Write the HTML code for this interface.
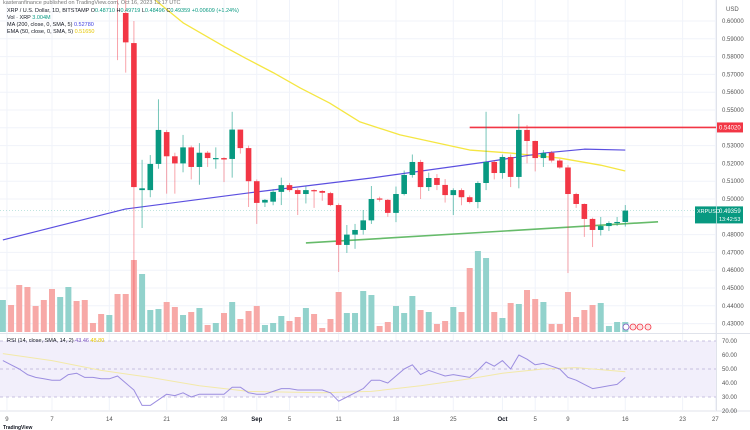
<!DOCTYPE html>
<html><head><meta charset="utf-8"><style>
html,body{margin:0;padding:0;background:#fff;width:750px;height:430px;overflow:hidden}
svg{display:block;font-family:"Liberation Sans",sans-serif}
</style></head><body>
<svg id="c" width="750" height="430" viewBox="0 0 750 430"></svg>
<script>
// ---- data ----
const startDay = -6; // days relative to Aug 7
const candleStart = 8;
const candleOpen  = [.650,.6045,.5876,.505,.505,.5197,.5376,.524,.520,.529,.518,.526,.5225,.523,.5225,.539,.5286,.510,.498,.4985,.504,.5078,.505,.5028,.505,.5045,.5033,.4966,.4742,.480,.4826,.488,.5003,.4995,.4922,.5028,.5135,.5208,.5067,.5118,.5079,.5022,.505,.501,.4983,.509,.5208,.5146,.5236,.5124,.5388,.5326,.523,.526,.5216,.5177,.5028,.4972,.4888,.4826,.4848,.4865,.4871];
const candleHigh  = [.655,.640,.600,.522,.5247,.556,.5388,.526,.536,.530,.5314,.527,.529,.5235,.549,.539,.530,.511,.500,.5055,.512,.509,.506,.507,.5055,.505,.504,.4975,.4854,.486,.4938,.5073,.5013,.500,.507,.516,.525,.522,.5148,.514,.5112,.506,.506,.502,.510,.549,.5218,.525,.525,.5478,.5416,.5328,.5275,.527,.5225,.519,.5035,.4975,.4895,.4899,.4875,.4899,.4966];
const candleLow   = [.578,.571,.432,.4837,.501,.517,.503,.503,.515,.511,.508,.518,.517,.5095,.512,.5255,.4955,.486,.4955,.4965,.4966,.504,.491,.4975,.495,.499,.496,.459,.4697,.472,.480,.486,.4985,.490,.487,.502,.512,.500,.5045,.505,.498,.491,.4965,.4975,.4948,.505,.511,.5114,.5067,.506,.520,.5155,.518,.5205,.517,.4584,.495,.4787,.473,.4795,.482,.4848,.4845];
const candleClose = [.640,.588,.5067,.506,.5197,.5388,.524,.520,.529,.518,.526,.523,.523,.5222,.539,.5286,.510,.4978,.4995,.504,.5078,.505,.5028,.505,.5045,.5035,.4966,.4742,.480,.4826,.488,.500,.4997,.4922,.5028,.5135,.5208,.5067,.5118,.5079,.5022,.505,.501,.4983,.509,.5208,.5146,.5236,.5124,.5388,.5326,.523,.5258,.5216,.5177,.5028,.4972,.4888,.4826,.4848,.4865,.4871,.4935];
const volumes = [32,27,47,45,26,32,43,35,45,31,32,9,18,17,38,38,72,58,22,23,30,25,17,20,24,7,9,19,30,13,21,26,7,9,16,11,15,24,18,4,13,40,19,19,41,37,6,10,26,19,36,22,20,8,11,25,20,64,81,74,20,14,29,28,42,33,30,8,8,40,15,22,27,29,6,10,10];
const earlyDir = ['u','d','d','d','d','d','d','u','u','d','d','d','d','u','d'];
const rsiValues = [56,53,50,46,44,43,42,42,46,47,44,44,43,43,45,40,35,24,24,28,32,31,33,30,32,32,32,32,37,37,33,32,32,34,36,36,35,35,35,35,33,27,30,33,36,42,42,40,45,50,53,46,49,47,45,46,45,44,49,55,52,56,50,60,57,53,54,52,50,44,42,39,36,37,38,39,44];
const rsiSmaDays = [-6,0,6,12,18,24,33,39,45,51,55,60,64,68,70];
const rsiSmaVals = [61,56,49,44,38,34,33,34,38,43,47,50,51,49,48];
const maDays = [-6,9,24,39,53,60,65,70];
const maVals = [.4770,.4944,.5034,.5118,.5208,.5258,.528,.5275];
const emaDays = [9,12.6,16,21.1,23.6,27,30.3,33.9,37.6,42.5,51,56,62,67,70];
const emaVals = [.628,.6118,.599,.5854,.5792,.571,.5624,.5539,.5433,.536,.5275,.5258,.523,.519,.5157];
const priceTicks = [.60,.59,.58,.57,.56,.55,.53,.52,.51,.50,.48,.47,.46,.45,.44,.43];
const rsiTicks = [70,60,50,40,30,20];
const dateLabels = ['9','7','14','21','28','Sep','5','11','18','25','Oct','5','9','16','23','27'];
const dateDays = [-5.5,0,7,14,21,25,29,35,42,49,55,59,63,70,77,81];
const supportDays = [31,74]; const supportVals = [.4753,.4872];
const resistDays = [51]; const resistVal = .5402;

// ---- axes ----
const X = d => 52 + 8.19*d;
const Y = p => 110 - (p-0.55)*1780;
const VY = v => 332 - v;
const RY = v => 369 - (v-50)*1.4;
const NS='http://www.w3.org/2000/svg';
const svg=document.getElementById('c');
function el(t,a,p){const e=document.createElementNS(NS,t);for(const k in a)e.setAttribute(k,a[k]);(p||svg).appendChild(e);return e;}
const UP='#089981', DN='#f23645';

const defs=el('defs',{});
const cp=el('clipPath',{id:'pc'},defs); el('rect',{x:0,y:0,width:716,height:332},cp);

const grid=el('g',{});
priceTicks.forEach(p=>el('line',{x1:0,x2:716,y1:Y(p),y2:Y(p),stroke:'#f0f3fa','stroke-width':1},grid));
[.54,.49].forEach(p=>el('line',{x1:0,x2:716,y1:Y(p),y2:Y(p),stroke:'#f0f3fa','stroke-width':1},grid));
dateDays.forEach(d=>{if(X(d)<716)el('line',{x1:X(d),x2:X(d),y1:0,y2:410,stroke:'#f0f3fa','stroke-width':1},grid);});

const rsiG=el('g',{});
el('rect',{x:0,y:RY(70),width:716,height:RY(30)-RY(70),fill:'#f2effb'},rsiG);
[70,50,30].forEach(v=>el('line',{x1:0,x2:716,y1:RY(v),y2:RY(v),stroke:'#b9b0d6','stroke-dasharray':'3,3','stroke-width':0.8},rsiG));
el('line',{x1:0,x2:750,y1:333.5,y2:333.5,stroke:'#e0e3eb'},svg);
el('line',{x1:716.5,x2:716.5,y1:0,y2:411,stroke:'#e0e3eb'},svg);
el('line',{x1:0,x2:750,y1:411,y2:411,stroke:'#e0e3eb'},svg);

const vg=el('g',{'clip-path':'url(#pc)'});
volumes.forEach((v,i)=>{const d=startDay+i;let dir;
 if(d<9) dir=earlyDir[i]||'d'; else {const k=d-candleStart;dir=candleClose[k]>=candleOpen[k]?'u':'d';}
 const r=el('rect',{x:X(d)-3,y:VY(v),width:6,height:v,fill:dir==='u'?'#92d2cc':'#f7a9a7'},vg);
 
 
});

function poly(days,vals,f,stroke,w,name,parent){const pts=days.map((d,i)=>X(d)+','+f(vals[i])).join(' ');
 const p=el('polyline',{points:pts,fill:'none',stroke:stroke,'stroke-width':w,'stroke-linejoin':'round'},parent||svg);
 
 return p;}
const pg=el('g',{'clip-path':'url(#pc)'});
poly(emaDays,emaVals,Y,'#f5e642',1.3,'ema50-line',pg);
poly(maDays,maVals,Y,'#5b4fe0',1.2,'ma200-line',pg);
poly(supportDays,supportVals,Y,'#66bb6a',1.6,'support-line',pg);
const rl=el('line',{x1:X(resistDays[0]),x2:716,y1:Y(resistVal),y2:Y(resistVal),stroke:'#f23645','stroke-width':1.6},pg);

el('line',{x1:0,x2:716,y1:Y(candleClose[candleClose.length-1]),y2:Y(candleClose[candleClose.length-1]),stroke:'#089981','stroke-width':0.5,'stroke-dasharray':'1,2','opacity':0.5},pg);

const cg=el('g',{'clip-path':'url(#pc)'});
candleOpen.forEach((o,i)=>{const d=candleStart+i,c=candleClose[i],col=c>=o?UP:DN,x=X(d);
 const g=el('g',{},cg);
 
 
 el('line',{x1:x,x2:x,y1:Y(candleHigh[i]),y2:Y(candleLow[i]),stroke:col,'stroke-width':1,opacity:c>=o?0.55:0.45},g);
 const t=Math.min(Y(o),Y(c)),h=Math.max(1.2,Math.abs(Y(o)-Y(c)));
 el('rect',{x:x-2.8,y:t,width:5.6,height:h,fill:col},g);
});

poly(rsiSmaDays,rsiSmaVals,RY,'#f3e9a8',1,'rsi-sma-line',rsiG);
poly(rsiValues.map((v,i)=>startDay+i),rsiValues,RY,'#9c8ee0',1,'rsi-line',rsiG);

function txt(x,y,s,o){const t=el('text',Object.assign({x:x,y:y,'font-size':6,fill:'#131722'},o||{}));t.textContent=s;return t;}
const pa=el('g',{});
priceTicks.forEach(p=>{const t=txt(722,Y(p)+2,p.toFixed(5),{fill:'#555'});pa.appendChild(t);});
txt(726,11,'USD',{fill:'#555'});
rsiTicks.forEach(v=>txt(722,RY(v)+2,v.toFixed(2),{fill:'#555'}));
dateLabels.forEach((s,i)=>{const t=txt(X(dateDays[i]),421,s,{'text-anchor':'middle',fill:s==='Sep'||s==='Oct'?'#131722':'#555','font-weight':s==='Sep'||s==='Oct'?'bold':'normal'});});

const rt=el('rect',{x:717,y:Y(resistVal)-5,width:26,height:10,fill:'#f23645'});
txt(719,Y(resistVal)+2.3,'0.54020',{fill:'#fff'});
const ct=el('rect',{x:695,y:Y(.49359)-4,width:48,height:17,fill:'#089981'});
el('line',{x1:716.5,x2:716.5,y1:Y(.49359)-4,y2:Y(.49359)+13,stroke:'#fff','stroke-width':0.6});
txt(697,Y(.49359)+2.5,'XRPUSD',{fill:'#fff','font-size':5.5});
txt(719,Y(.49359)+2.5,'0.49359',{fill:'#fff'});
txt(719,Y(.49359)+10.5,'13:42:53',{fill:'#fff','font-size':5.5});
[626,633,640,648].forEach((x,i)=>{const c=el('circle',{cx:x,cy:327,r:3,fill:i?'#fce4e4':'#fff',stroke:i?'#f23645':'#7e57c2','stroke-width':0.8});});

const lg=el('g',{});
txt(3,4,'kasteranfinance published on TradingView.com, Oct 16, 2023 13:17 UTC',{fill:'#777','font-size':5.5});
const l1=txt(7,12,'XRP / U.S. Dollar, 1D, BITSTAMP  ',{'font-size':5.5});
[['O','0.48710'],['H','0.49719'],['L','0.48496'],['C','0.49359']].forEach(a=>{const s=el('tspan',{},l1);s.textContent=a[0];const v=el('tspan',{fill:UP},l1);v.textContent=a[1]+' ';});
const ch=el('tspan',{fill:UP},l1);ch.textContent='+0.00609 (+1.24%)';
const l2=txt(7,19,'Vol · XRP ',{'font-size':5.5});const v2=el('tspan',{fill:UP},l2);v2.textContent='3.004M';
const l3=txt(7,26,'MA (200, close, 0, SMA, 5) ',{'font-size':5.5});const v3=el('tspan',{fill:'#3f3fe0'},l3);v3.textContent='0.52780';
const l4=txt(7,33,'EMA (50, close, 0, SMA, 5) ',{'font-size':5.5});const v4=el('tspan',{fill:'#e6c700'},l4);v4.textContent='0.51650';
const l5=txt(7,342,'RSI (14, close, SMA, 14, 2) ',{'font-size':5.5});const v5=el('tspan',{fill:'#7e57c2'},l5);v5.textContent='43.46 ';const v6=el('tspan',{fill:'#e6c700'},l5);v6.textContent='48.80';
txt(3,429,'TradingView',{'font-size':5,fill:'#131722','font-weight':'bold'});
</script>
</body></html>
